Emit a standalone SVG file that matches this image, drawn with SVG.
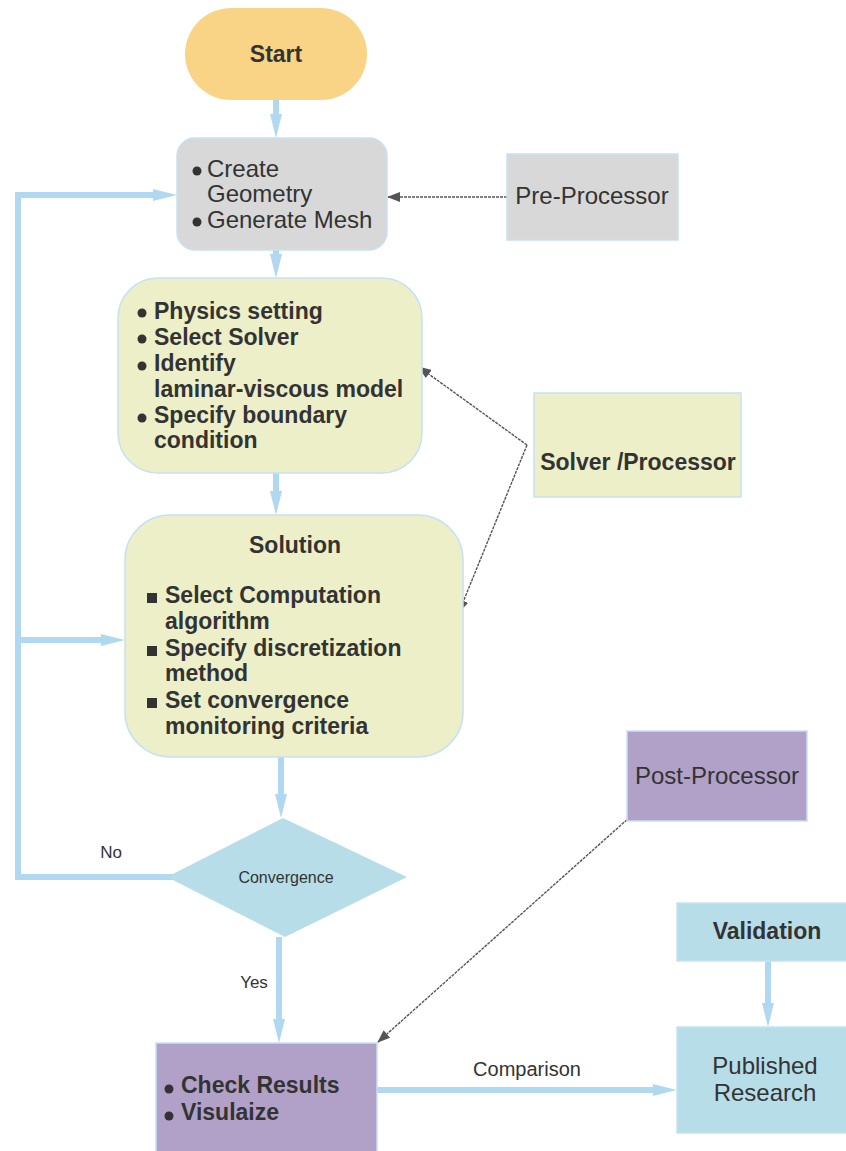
<svg xmlns="http://www.w3.org/2000/svg" width="846" height="1151" viewBox="0 0 846 1151">
<defs>
<style>
text{font-family:"Liberation Sans",Arial,sans-serif;fill:#333;}
.b{font-weight:bold;font-size:23px;}
.r{font-size:24px;}
.s{font-size:17px;}
.node{stroke:#c6e1f3;stroke-width:1.5;}
.gray{fill:#d8d8d8;}
.yel{fill:#ecefc8;}
.pur{fill:#b1a0c7;}
.lb{fill:#b7dde8;}
.bul{fill:#333;}
.flow{fill:none;stroke:#b0d8f0;stroke-width:6;}
.dot{fill:none;stroke:#555;stroke-width:1.4;stroke-dasharray:3,1;}
</style>
<marker id="ab" viewBox="0 0 24 12" markerWidth="24" markerHeight="12" markerUnits="userSpaceOnUse" refX="12" refY="6" orient="auto">
<path d="M0,0 L24,6 L0,12 z" fill="#b0d8f0"/>
</marker>
<marker id="ag" viewBox="0 0 13 10" markerWidth="13" markerHeight="10" markerUnits="userSpaceOnUse" refX="12" refY="5" orient="auto">
<path d="M0,0 L13,5 L0,10 z" fill="#555"/>
</marker>
</defs>
<rect width="846" height="1151" fill="#fff"/>

<g id="connectors">
<path class="flow" d="M276,100 V126" marker-end="url(#ab)"/>
<path class="flow" d="M276,250 V266" marker-end="url(#ab)"/>
<path class="flow" d="M276,473 V503" marker-end="url(#ab)"/>
<path class="flow" d="M281,757 V806" marker-end="url(#ab)"/>
<path class="flow" d="M279,937 V1031" marker-end="url(#ab)"/>
<path class="flow" d="M200,877 H18 V195 H165" marker-end="url(#ab)"/>
<path class="flow" d="M18,640 H113" marker-end="url(#ab)"/>
<path class="flow" d="M377,1090 H665" marker-end="url(#ab)"/>
<path class="flow" d="M768,961 V1015" marker-end="url(#ab)"/>
<path class="dot" d="M507,197 H388" marker-end="url(#ag)"/>
<path class="dot" d="M527,445 L419,367" marker-end="url(#ag)"/>
<path class="dot" d="M527,445 L459,612" marker-end="url(#ag)"/>
<path class="dot" d="M630,817 L378,1042" marker-end="url(#ag)"/>
<text class="s" x="111" y="858" text-anchor="middle">No</text>
<text class="s" x="254" y="988" text-anchor="middle">Yes</text>
<text x="527" y="1076" text-anchor="middle" style="font-size:20px">Comparison</text>
</g>

<g id="start">
<rect x="185" y="8" width="182" height="92" rx="46" fill="#f9d486"/>
<text class="b" x="276" y="62" text-anchor="middle">Start</text>
</g>

<g id="geometry">
<rect class="node gray" x="177" y="138" width="210" height="112" rx="18"/>
<circle class="bul" cx="197" cy="171" r="4.5"/>
<circle class="bul" cx="197" cy="222" r="4.5"/>
<text class="r" x="207" y="177">Create</text>
<text class="r" x="207" y="202">Geometry</text>
<text class="r" x="207" y="228">Generate Mesh</text>
</g>

<g id="pre-processor">
<rect class="node gray" x="507" y="154" width="171" height="86"/>
<text class="r" x="592" y="204" text-anchor="middle">Pre-Processor</text>
</g>

<g id="physics">
<rect class="node yel" x="118" y="278" width="304" height="195" rx="40"/>
<circle class="bul" cx="142" cy="313" r="4.5"/>
<circle class="bul" cx="142" cy="339" r="4.5"/>
<circle class="bul" cx="142" cy="366" r="4.5"/>
<circle class="bul" cx="142" cy="418" r="4.5"/>
<text class="b" x="154" y="319">Physics setting</text>
<text class="b" x="154" y="345">Select Solver</text>
<text class="b" x="154" y="371">Identify</text>
<text class="b" x="154" y="397">laminar-viscous model</text>
<text class="b" x="154" y="423">Specify boundary</text>
<text class="b" x="154" y="448">condition</text>
</g>

<g id="solver-processor">
<rect class="node yel" x="534" y="393" width="207" height="104"/>
<text class="b" x="638" y="470" text-anchor="middle">Solver /Processor</text>
</g>

<g id="solution">
<rect class="node yel" x="125" y="515" width="338" height="242" rx="45"/>
<text class="b" x="295" y="553" text-anchor="middle">Solution</text>
<rect class="bul" x="147" y="593" width="10" height="10"/>
<rect class="bul" x="147" y="646" width="10" height="10"/>
<rect class="bul" x="147" y="698" width="10" height="10"/>
<text class="b" x="165" y="603">Select Computation</text>
<text class="b" x="165" y="629">algorithm</text>
<text class="b" x="165" y="656">Specify discretization</text>
<text class="b" x="165" y="681">method</text>
<text class="b" x="165" y="708">Set convergence</text>
<text class="b" x="165" y="734">monitoring criteria</text>
</g>

<g id="convergence">
<polygon points="283,818 407,877 285,937 167,877" fill="#b7dde8"/>
<text x="286" y="883" text-anchor="middle" style="font-size:16px">Convergence</text>
</g>

<g id="post-processor">
<rect class="node pur" x="627" y="731" width="180" height="90"/>
<text class="r" x="717" y="784" text-anchor="middle">Post-Processor</text>
</g>

<g id="validation">
<rect class="node lb" x="677" y="903" width="185" height="58"/>
<text class="b" x="767" y="939" text-anchor="middle">Validation</text>
</g>

<g id="published-research">
<rect class="node lb" x="677" y="1027" width="185" height="106"/>
<text class="r" x="765" y="1074" text-anchor="middle">Published</text>
<text class="r" x="765" y="1101" text-anchor="middle">Research</text>
</g>

<g id="check-results">
<rect class="node pur" x="156" y="1043" width="221" height="120"/>
<circle class="bul" cx="169" cy="1089" r="4.5"/>
<circle class="bul" cx="169" cy="1116" r="4.5"/>
<text class="b" x="181" y="1093">Check Results</text>
<text class="b" x="181" y="1120">Visulaize</text>
</g>
</svg>
